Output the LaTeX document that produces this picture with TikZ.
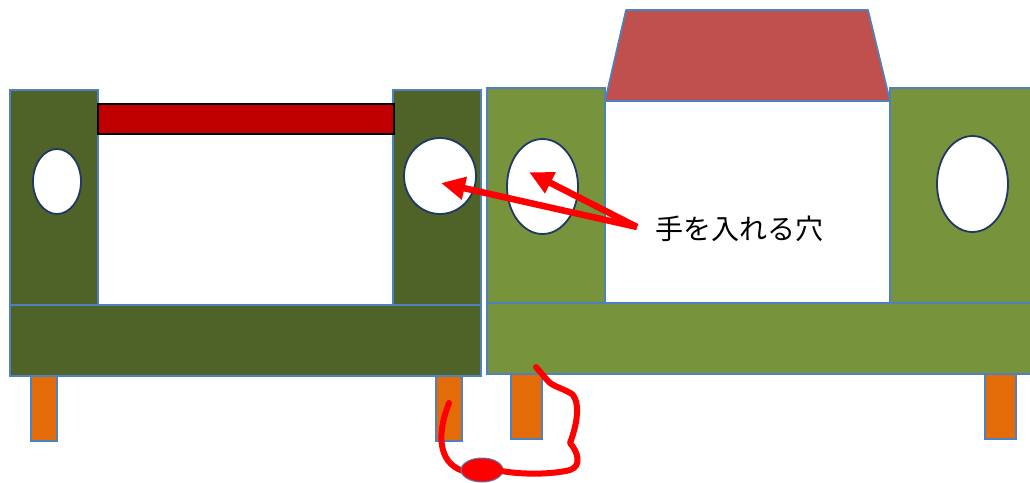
\documentclass[tikz,border=0pt]{standalone}
\usepackage{fontspec}
\newfontfamily\jpfont{Noto Sans CJK JP}
\usetikzlibrary{arrows.meta,shapes.geometric}
\definecolor{boxdark}{HTML}{4F6228}
\definecolor{boxlight}{HTML}{77933C}
\definecolor{edgeblue}{HTML}{4F81BD}
\definecolor{holeedge}{HTML}{1F3864}
\definecolor{roofred}{HTML}{C0504D}
\definecolor{barred}{HTML}{C00000}
\definecolor{legorange}{HTML}{E36C09}

\begin{document}
\begin{tikzpicture}[x=1pt, y=-1pt,
  panel/.style={draw=edgeblue, line width=1.7pt},
  dark/.style={panel, fill=boxdark},
  light/.style={panel, fill=boxlight},
  leg/.style={panel, fill=legorange},
  hole/.style={ellipse, draw=holeedge, line width=1.8pt, fill=white,
    inner sep=0pt},
  pointer/.style={-{Triangle[length=24pt,width=22pt]}, line width=6.5pt, red},
  cable/.style={red, line width=6pt, line cap=round, line join=round}]
\useasboundingbox (0,0) rectangle (1030,482);

% left box (dark)
\draw[leg] (31,360) rectangle (57,441);
\draw[leg] (436,360) rectangle (462,441);
\draw[dark] (10,90) rectangle (98,305);
\draw[dark] (393,90) rectangle (481,305);
\draw[dark] (10,305) rectangle (481,376);
\draw[draw=black, line width=1.2pt, fill=barred] (98,104) rectangle (394,134);
\node[hole, minimum width=48pt, minimum height=65pt] (holeL) at (57,181.5) {};
\node[hole, minimum width=72pt, minimum height=76pt] (holeR) at (440,176) {};

% right box (light) with roof
\draw[leg] (511,360) rectangle (542,439);
\draw[leg] (985,360) rectangle (1016,439);
\draw[light] (487,88) rectangle (605,303);
\draw[light] (890,88) rectangle (1040,303);
\draw[panel, fill=white] (605,101) rectangle (890,303);
\draw[panel, fill=roofred, line join=round]
  (605,101) -- (626,10) -- (868,10) -- (890,101) -- cycle;
\draw[light] (487,303) rectangle (1040,374);
\node[hole, minimum width=71pt, minimum height=95pt] (holeM) at (542.5,186.5) {};
\node[hole, minimum width=71pt, minimum height=96pt] (holeE) at (972.5,184) {};

% label and pointers
\node[font=\jpfont\fontsize{28}{33}\selectfont, anchor=west] (label)
  at (652,229) {手を入れる穴};
\coordinate (tail) at (637,227);
\coordinate (tipR) at (441,183);
\coordinate (tipM) at (529,172);
\draw[pointer] (tail) -- (tipR);
\draw[pointer] (tail) -- (tipM);

% cable with plug
\coordinate (plugW) at (463,471);
\coordinate (plugE) at (492,469);
\draw[cable] (449,403) .. controls (438,430) and (436,462) .. (plugW);
\node[ellipse, draw=edgeblue, line width=1pt, fill=red, inner sep=0pt,
  minimum width=42pt, minimum height=24pt] (plug) at (482,470) {};
\draw[cable] (plugE) .. controls (520,476) and (555,474) .. (570,470)
  .. controls (582,466) and (578,452) .. (570,443)
  .. controls (575,430) and (582,405) .. (572,394)
  .. controls (562,388) and (552,386) .. (548,381)
  -- (536,367);
\end{tikzpicture}
\end{document}
